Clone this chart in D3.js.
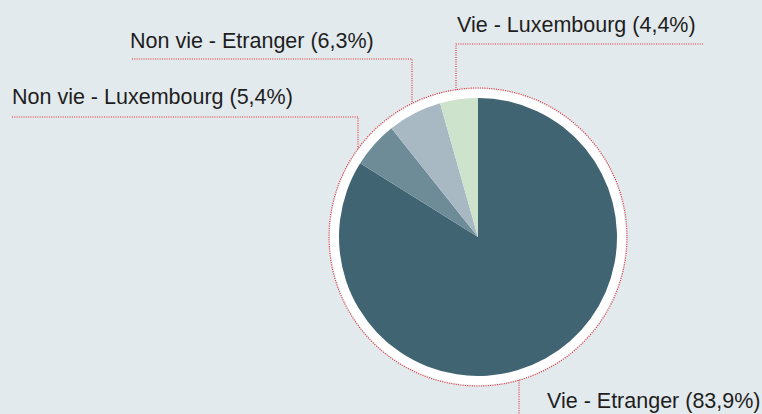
<!DOCTYPE html>
<html><head><meta charset="utf-8">
<script src="https://cdn.jsdelivr.net/npm/d3@7"></script>
<style>html,body{margin:0;padding:0;background:#e3eaed;}svg{display:block;}</style>
</head><body>
<script>
const categories = ["Vie - Etranger", "Non vie - Luxembourg", "Non vie - Etranger", "Vie - Luxembourg"];
const values = [83.9, 5.4, 6.3, 4.4];
const valueLabels = ["83,9%", "5,4%", "6,3%", "4,4%"];
const colors = ["#416473", "#6e8b98", "#a8b9c4", "#cde3cc"];

const W = 762, H = 414;
const cx = 478, cy = 237, R = 139, ringR = 148, dotR = 149;
const layout = [
  {tx: 547, ty: 408, vx: 519, vertDown: true},
  {tx: 12, ty: 104, hy: 117, hx0: 12, vx: 358},
  {tx: 130, ty: 48, hy: 59, hx0: 132, vx: 412},
  {tx: 457, ty: 32, hy: 44, hx0: 456, hx1: 703, vx: 456}
];

const svg = d3.select("body").append("svg").attr("width", W).attr("height", H);
svg.append("rect").attr("width", W).attr("height", H).attr("fill", "#e3eaed");

const g = svg.append("g").attr("transform", `translate(${cx},${cy})`);
g.append("circle").attr("r", ringR).attr("fill", "#ffffff");

const lineStyle = sel => sel.attr("fill", "none").attr("stroke", "#e3262c")
  .attr("stroke-width", 1.1).attr("stroke-dasharray", "1,1.3");

g.append("circle").attr("r", dotR).call(lineStyle);

const pie = d3.pie().sort(null).value(d => d)(values);
const arc = d3.arc().innerRadius(0).outerRadius(R);
g.selectAll("path.slice").data(pie).join("path")
  .attr("class", "slice").attr("d", arc).attr("fill", (d, i) => colors[i]);

layout.forEach((L, i) => {
  const dx = L.vx - cx;
  const dy = Math.sqrt(dotR * dotR - dx * dx);
  let pts;
  if (L.vertDown) {
    pts = [[L.vx, cy + dy], [L.vx, H + 2]];
  } else if (L.hx1 !== undefined) {
    pts = [[L.hx1, L.hy], [L.vx, L.hy], [L.vx, cy - dy]];
  } else {
    pts = [[L.hx0, L.hy], [L.vx, L.hy], [L.vx, cy - dy]];
  }
  svg.append("path").attr("d", d3.line()(pts)).call(lineStyle);
  svg.append("text").attr("x", L.tx).attr("y", L.ty)
    .attr("font-family", "Liberation Sans, Arial, sans-serif")
    .attr("font-size", 21.5).attr("fill", "#1e1e1e")
    .text(`${categories[i]} (${valueLabels[i]})`);
});
</script>
</body></html>
